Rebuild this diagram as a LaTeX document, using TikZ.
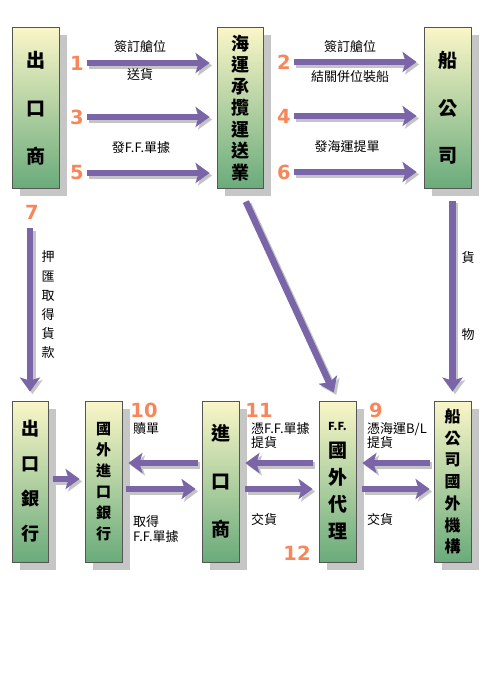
\documentclass[tikz,border=0pt]{standalone}
\usepackage{fontspec}
\setmainfont{Noto Sans CJK TC}
\newfontfamily\numfont{DejaVu Sans}
\usetikzlibrary{arrows.meta,shadows}

\definecolor{flowpurple}{HTML}{7A65A8}
\definecolor{flowshade}{HTML}{C4C4C4}
\definecolor{steporange}{HTML}{F7875A}
\definecolor{boxtop}{HTML}{FAF6C8}
\definecolor{boxbot}{HTML}{6AAB7B}
\definecolor{boxline}{HTML}{555555}
\definecolor{boxshade}{HTML}{C6C6C6}

\newcommand\partyfont[2]{\fontsize{#1}{#2}\selectfont\bfseries}
% thick arrow with a grey copy behind it
\newcommand\flowpath[3][]{%
  \draw[flow,#1,draw=flowshade,transform canvas={shift={(2.5pt,-2.5pt)}}] #2 -- #3;
  \draw[flow,#1] #2 -- #3;}

\tikzset{
  party/.style={draw=boxline, line width=0.8pt, top color=boxtop, bottom color=boxbot,
    minimum height=161pt, inner sep=0pt, align=center,
    drop shadow={fill=boxshade, opacity=1, shadow xshift=8pt, shadow yshift=-8pt}},
  flow/.style={draw=flowpurple, line width=6.5pt, shorten <=4pt, shorten >=6pt,
    -{Stealth[length=14pt,width=20pt,inset=3pt]}},
  num/.style={font=\numfont\bfseries\fontsize{19.5}{20}\selectfont, text=steporange, inner sep=1pt},
  lbl/.style={font=\fontsize{13}{15}\selectfont, inner sep=0pt}
}

\begin{document}
\begin{tikzpicture}[x=1pt,y=-1pt]
\useasboundingbox (0,0) rectangle (492,700);

% Top row: exporter, forwarder, shipping line
\node[party, minimum width=47pt, font=\partyfont{19}{48}] (exp) at (35.5,108) {出\\口\\商};
\node[party, minimum width=46pt, font=\partyfont{18}{21.5}] (fwd) at (240,108) {海\\運\\承\\攬\\運\\送\\業};
\node[party, minimum width=47pt, font=\partyfont{19}{47.5}] (ship) at (447.5,108) {船\\公\\司};

% Bottom row: banks, importer, agents
\node[party, minimum width=36pt, font=\partyfont{18}{35}] (expbank) at (30,481.5) {出\\口\\銀\\行};
\node[party, minimum width=37pt, font=\partyfont{15}{21}] (impbank) at (103.5,481.5) {國\\外\\進\\口\\銀\\行};
\node[party, minimum width=37pt, font=\partyfont{19}{48}] (imp) at (220.5,481.5) {進\\口\\商};
\node[party, minimum width=37pt, font=\partyfont{19}{27}] (agent) at (337.5,481.5) {{\fontsize{11}{27}\selectfont F.F.}\\國\\外\\代\\理};
\node[party, minimum width=37pt, font=\partyfont{16}{21.7}] (shipagent) at (452.5,481.5) {船\\公\\司\\國\\外\\機\\構};

% Step numbers
\node[num] (n1) at (77,63) {1};
\node[num] (n3) at (77,117) {3};
\node[num] (n5) at (77,173) {5};
\node[num] (n2) at (284,62) {2};
\node[num] (n4) at (284,116) {4};
\node[num] (n6) at (284,172) {6};
\node[num] (n7) at (32,212) {7};
\node[num] (n9) at (376,410) {9};
\node[num] (n10) at (144,410) {10};
\node[num] (n11) at (259,410) {11};
\node[num] (n12) at (297,553) {12};

% Top arrows with their labels
\flowpath[shorten <=2pt, shorten >=7pt]{(n1.east)}{(n1.east -| fwd.west)}
\flowpath[shorten <=2pt, shorten >=7pt]{(n3.east)}{(n3.east -| fwd.west)}
\flowpath[shorten <=2pt, shorten >=7pt]{(n5.east)}{(n5.east -| fwd.west)}
\flowpath[shorten <=2pt, shorten >=7pt]{(n2.east)}{(n2.east -| ship.west)}
\flowpath[shorten <=2pt, shorten >=7pt]{(n4.east)}{(n4.east -| ship.west)}
\flowpath[shorten <=2pt, shorten >=7pt]{(n6.east)}{(n6.east -| ship.west)}
\node[lbl] (booka) at (140,47) {簽訂艙位};
\node[lbl] (deliver) at (140,75) {送貨};
\node[lbl] (ffbill) at (141,148) {發F.F.單據};
\node[lbl] (bookb) at (350,47) {簽訂艙位};
\node[lbl] (loading) at (350,77) {結關併位裝船};
\node[lbl] (blbill) at (347,147) {發海運提單};

% Middle: down to the bottom row
\flowpath[shorten <=8pt, shorten >=9pt]{(n7.south -| expbank.north)}{(expbank.north)}
\flowpath[shorten <=14pt, shorten >=9pt]{(fwd.south)}{(agent.north)}
\flowpath[shorten <=12pt, shorten >=9pt]{(ship.south -| shipagent.north)}{(shipagent.north)}
\node[lbl, font=\fontsize{13}{19.2}\selectfont, align=center] (negotiate) at (48,305) {押\\匯\\取\\得\\貨\\款};
\node[lbl, font=\fontsize{13}{77}\selectfont, align=center] (cargo) at (468,296.5) {貨\\物};

% Bottom arrows
\flowpath[shorten <=5pt, shorten >=5pt]{([yshift=2.5pt]expbank.east)}{([yshift=2.5pt]impbank.west)}
\flowpath{([yshift=18.5pt]imp.west)}{([yshift=18.5pt]impbank.east)}
\flowpath{([yshift=-7.5pt]impbank.east)}{([yshift=-7.5pt]imp.west)}
\flowpath[shorten <=6pt]{([yshift=18.5pt]agent.west)}{([yshift=18.5pt]imp.east)}
\flowpath[shorten <=6pt]{([yshift=-7.5pt]imp.east)}{([yshift=-7.5pt]agent.west)}
\flowpath{([yshift=18.5pt]shipagent.west)}{([yshift=18.5pt]agent.east)}
\flowpath[shorten <=6pt, shorten >=4pt]{([yshift=-7.5pt]agent.east)}{([yshift=-7.5pt]shipagent.west)}

% Bottom labels
\node[lbl, anchor=west] (redeem) at (133,429) {贖單};
\node[lbl, anchor=west, align=left] (getff) at (133,529.5) {取得\\F.F.單據};
\node[lbl, anchor=west, align=left, font=\fontsize{13}{14}\selectfont] (pickff) at (251,436) {憑F.F.單據\\提貨};
\node[lbl, anchor=west] (handa) at (251,520) {交貨};
\node[lbl, anchor=west, align=left, font=\fontsize{13}{14}\selectfont] (pickbl) at (367,436) {憑海運B/L\\提貨};
\node[lbl, anchor=west] (handb) at (367,520) {交貨};

\end{tikzpicture}
\end{document}
